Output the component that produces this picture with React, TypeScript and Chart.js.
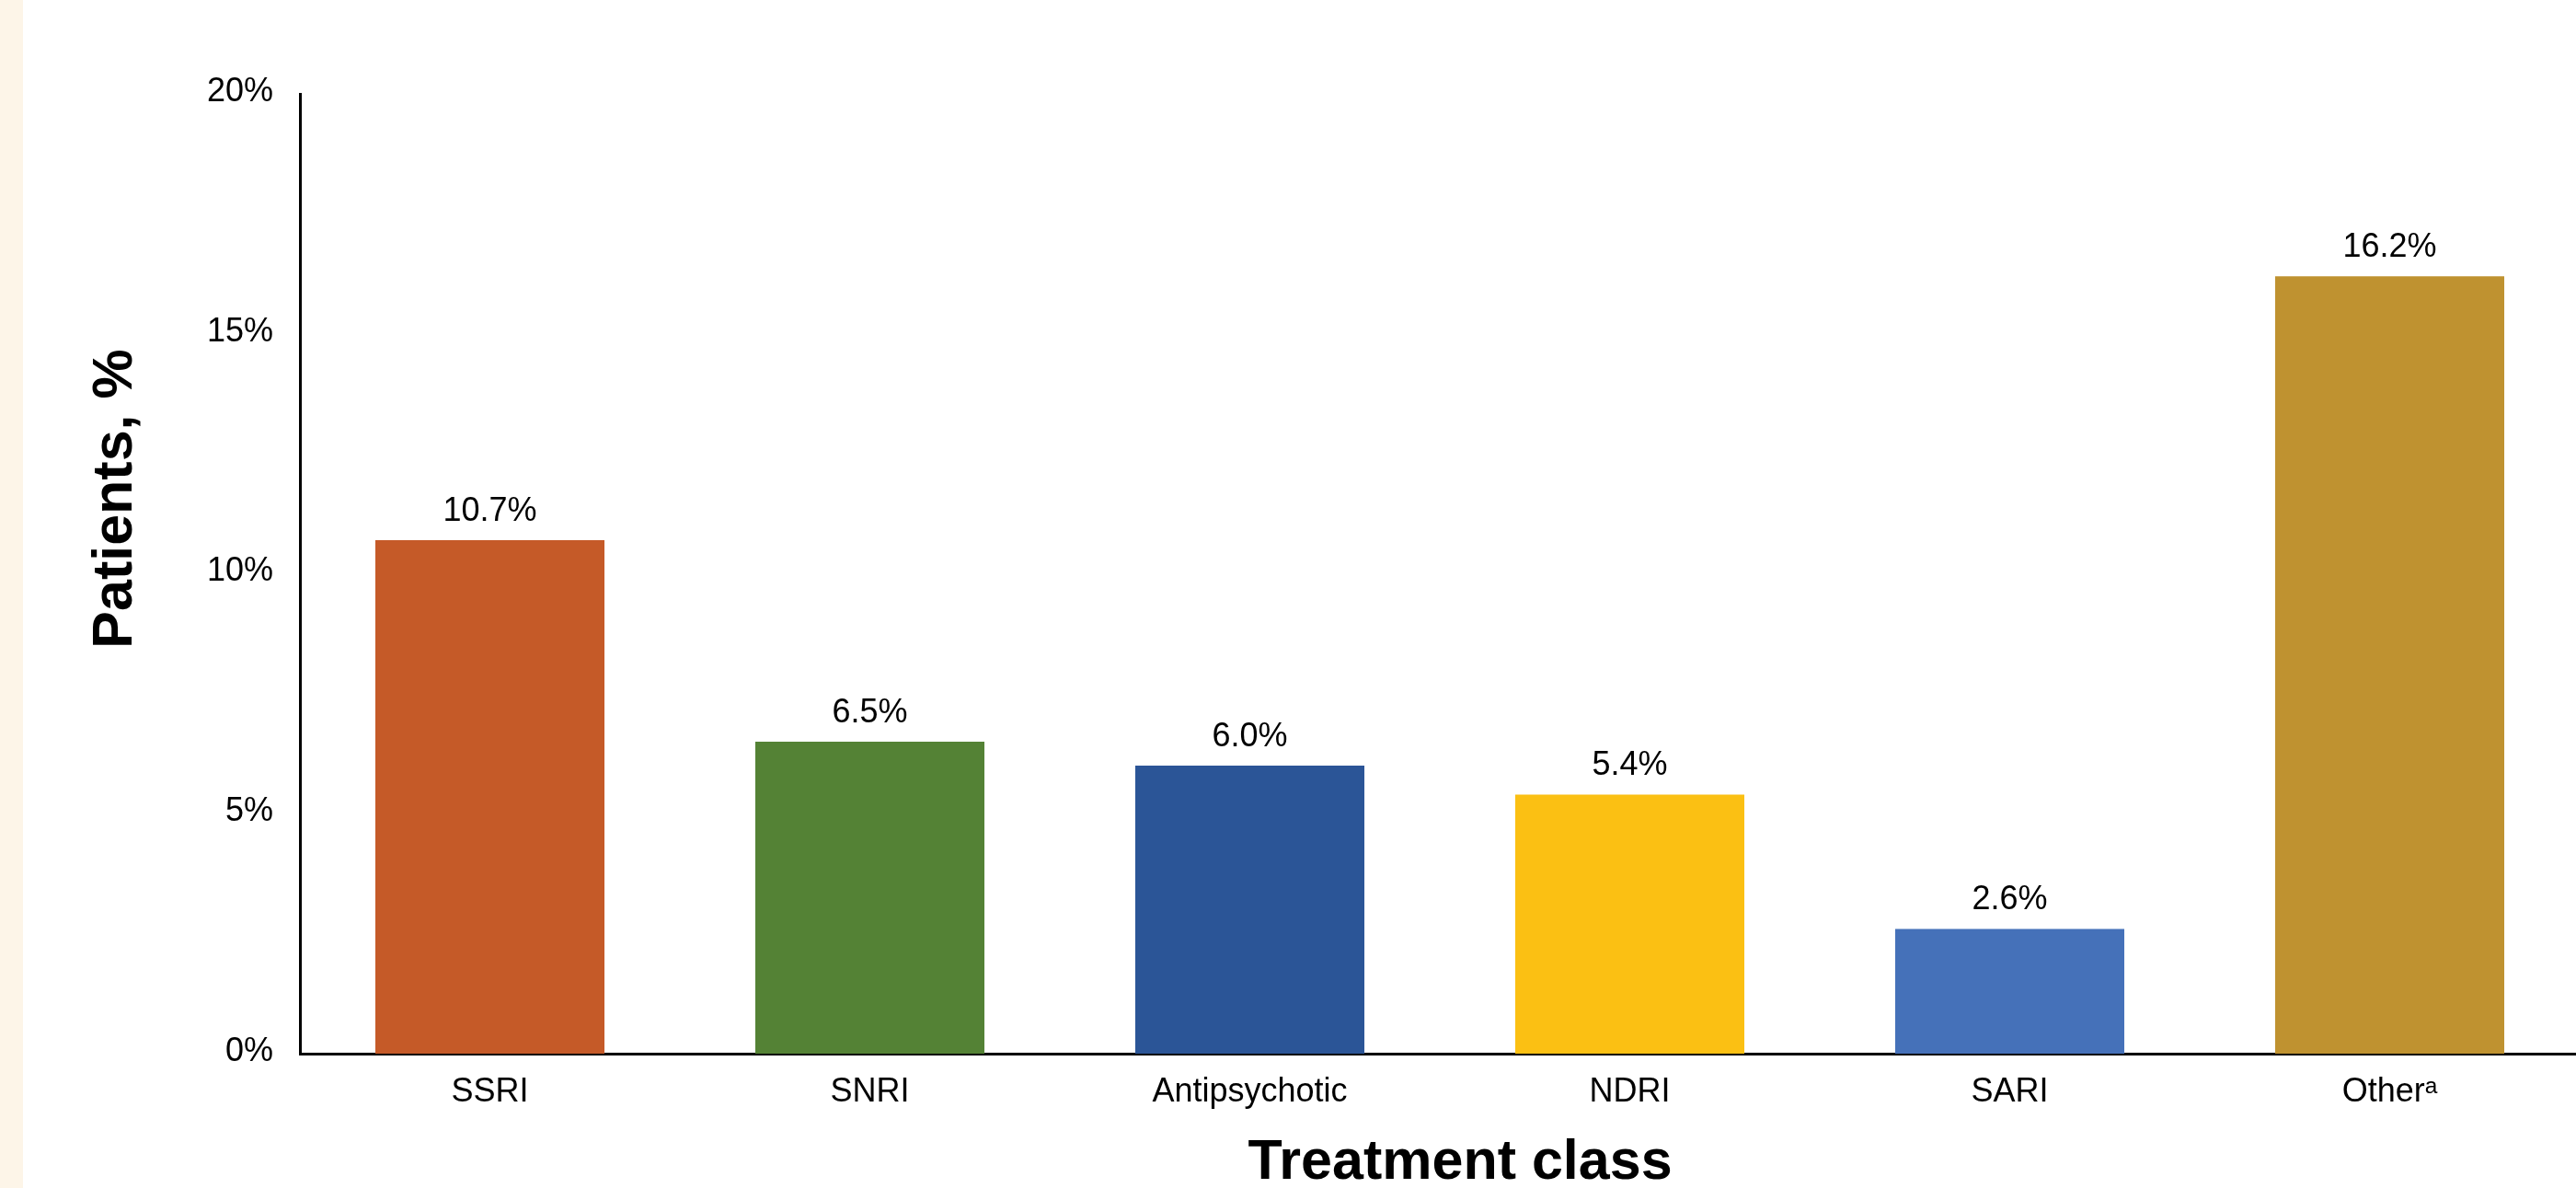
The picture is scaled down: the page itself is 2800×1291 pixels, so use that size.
import React, { useEffect, useRef } from "react";
import { Chart, registerables } from "chart.js";

Chart.register(...registerables);

const categories = ["SSRI", "SNRI", "Antipsychotic", "NDRI", "SARI", "Other\u1D43"];
const values = [10.7, 6.5, 6.0, 5.4, 2.6, 16.2];
const barColors = ["#C55A28", "#548235", "#2B5597", "#FBC013", "#4571B9", "#BF9230"];
const yTickValues = [0, 5, 10, 15, 20];
const xTitle = "Treatment class";
const yTitle = "Patients, %";

const FONT = "'Liberation Sans', Arial, 'DejaVu Sans', sans-serif";

const labelsPlugin = {
  id: "barLabels",
  afterDatasetsDraw(chart: any) {
    const ctx = chart.ctx;
    const meta = chart.getDatasetMeta(0);
    ctx.save();
    ctx.font = `36px ${FONT}`;
    ctx.fillStyle = "#000";
    ctx.textAlign = "center";
    ctx.textBaseline = "alphabetic";
    meta.data.forEach((bar: any, i: number) => {
      ctx.fillText(`${values[i].toFixed(1)}%`, bar.x, bar.y - 21);
    });
    ctx.restore();
  },
};

const titlesPlugin = {
  id: "axisTitles",
  afterDraw(chart: any) {
    const ctx = chart.ctx;
    ctx.save();
    ctx.fillStyle = "#000";
    ctx.font = `bold 61px ${FONT}`;
    ctx.textAlign = "center";
    ctx.textBaseline = "alphabetic";
    ctx.fillText(xTitle, 1587, 1281);
    ctx.translate(143, 542);
    ctx.rotate(-Math.PI / 2);
    ctx.fillText(yTitle, 0, 0);
    ctx.restore();
  },
};

export default function App() {
  const ref = useRef<HTMLCanvasElement>(null);
  useEffect(() => {
    if (!ref.current) return;
    const chart = new Chart(ref.current, {
      type: "bar",
      data: {
        labels: categories,
        datasets: [
          {
            data: values,
            backgroundColor: barColors,
            borderWidth: 0,
            barPercentage: 0.603,
            categoryPercentage: 1,
          },
        ],
      },
      options: {
        animation: false,
        responsive: false,
        maintainAspectRatio: false,
        devicePixelRatio: 1,
        layout: { padding: { top: 102, left: 0, right: 0, bottom: 0 } },
        plugins: {
          legend: { display: false },
          tooltip: { enabled: false },
          title: { display: false },
        },
        scales: {
          x: {
            grid: { display: false, drawTicks: false },
            border: { display: true, color: "#000", width: 3 },
            ticks: {
              color: "#000",
              font: { family: FONT, size: 36 },
              padding: 20,
              maxRotation: 0,
              autoSkip: false,
            },
            afterFit(scale: any) {
              scale.height = 146;
            },
          },
          y: {
            min: 0,
            max: 20,
            grid: { display: false, drawTicks: false },
            border: { display: true, color: "#000", width: 3 },
            afterBuildTicks(scale: any) {
              scale.ticks = yTickValues.map((v) => ({ value: v }));
            },
            ticks: {
              color: "#000",
              font: { family: FONT, size: 36 },
              padding: 29,
              labelOffset: -2,
              callback: (v: any) => `${v}%`,
            },
            afterFit(scale: any) {
              scale.width = 326;
            },
          },
        },
      },
      plugins: [labelsPlugin, titlesPlugin],
    });
    return () => chart.destroy();
  }, []);

  return (
    <div
      style={{
        position: "absolute",
        left: 0,
        top: 0,
        width: 2800,
        height: 1291,
        overflow: "hidden",
        background: "#FFFFFF",
      }}
    >
      <div
        style={{
          position: "absolute",
          left: 0,
          top: 0,
          width: 25,
          height: 1291,
          background: "#FDF5E8",
        }}
      />
      <canvas
        ref={ref}
        width={2804}
        height={1291}
        style={{ position: "absolute", left: 0, top: 0, width: 2804, height: 1291 }}
      />
    </div>
  );
}
